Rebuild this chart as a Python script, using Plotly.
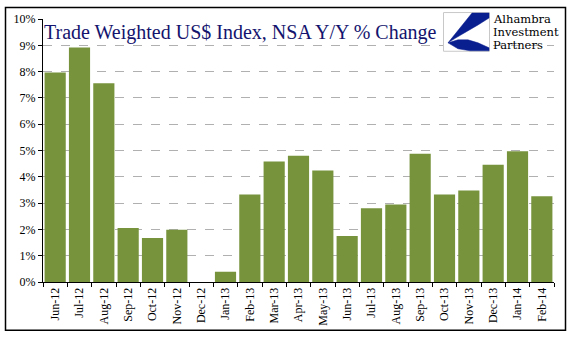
import plotly.graph_objects as go

months = ["Jun-12", "Jul-12", "Aug-12", "Sep-12", "Oct-12", "Nov-12", "Dec-12",
          "Jan-13", "Feb-13", "Mar-13", "Apr-13", "May-13", "Jun-13", "Jul-13",
          "Aug-13", "Sep-13", "Oct-13", "Nov-13", "Dec-13", "Jan-14", "Feb-14"]
yoy_change = [7.97, 8.92, 7.56, 2.05, 1.67, 1.99, 0.0,
              0.39, 3.33, 4.58, 4.80, 4.24, 1.75, 2.80,
              2.95, 4.88, 3.33, 3.48, 4.46, 4.97, 3.26]
y_ticks = list(range(0, 11))
y_tick_text = ["{}%".format(v) for v in y_ticks]
logo_lines = ["Alhambra", "Investment", "Partners"]

W, H = 577, 341
ML, MR, MT, MB = 43, 23, 17, 59
PW, PH = W - ML - MR, H - MT - MB


def px(x):
    return (x - ML) / PW


def py(y):
    return (H - MB - y) / PH


def pts_to_path(pts):
    s = "M{:.4f},{:.4f}".format(px(pts[0][0]), py(pts[0][1]))
    for x, y in pts[1:]:
        s += "L{:.4f},{:.4f}".format(px(x), py(y))
    return s + "Z"


fig = go.Figure()
fig.add_trace(go.Bar(
    x=months, y=yoy_change,
    marker=dict(color="#77933C", line=dict(width=0)),
    hoverinfo="x+y",
))

serif = "Liberation Serif"

shapes = [
    # outer frame
    dict(type="rect", xref="paper", yref="paper", layer="above",
         x0=px(5.5), x1=px(565.5), y0=py(5.5), y1=py(330.5),
         line=dict(color="black", width=1.5), fillcolor="rgba(0,0,0,0)"),
    # logo box
    dict(type="rect", xref="paper", yref="paper", layer="above",
         x0=px(443.5), x1=px(489.5), y0=py(10.5), y1=py(49.5),
         line=dict(color="#c8c8c8", width=1), fillcolor="white"),
]

# logo mark: upper wedge and lower sweep
upper = [(472, 11), (489, 11), (489, 16), (478, 23), (466, 30), (456, 36), (448, 41)]
lower = [(448, 41), (458, 38), (468, 38), (478, 41), (489, 46), (489, 49), (470, 49), (458, 47)]
for pts in (upper, lower):
    shapes.append(dict(type="path", xref="paper", yref="paper", layer="above",
                       path=pts_to_path(pts), fillcolor="#0a1f8f",
                       line=dict(color="#0a1f8f", width=0.5)))

annotations = [
    dict(text="Trade Weighted US$ Index, NSA Y/Y % Change",
         xref="paper", yref="paper", x=px(42), y=py(31),
         xanchor="left", yanchor="middle", showarrow=False,
         font=dict(family=serif, size=20, color="#14146e")),
]
for i, line in enumerate(logo_lines):
    annotations.append(dict(
        text=line, xref="paper", yref="paper",
        x=px(491), y=py(16.5 + i * 13.5), xanchor="left", yanchor="middle",
        showarrow=False, font=dict(family="DejaVu Serif", size=11.5, color="black")))

fig.update_layout(
    width=W, height=H,
    margin=dict(l=ML, r=MR, t=MT, b=MB),
    paper_bgcolor="white", plot_bgcolor="white",
    bargap=0.13,
    showlegend=False,
    shapes=shapes,
    annotations=annotations,
    xaxis=dict(
        type="category", range=[-0.5, len(months) - 0.5],
        tickangle=-90, tickfont=dict(family=serif, size=12, color="black"),
        showline=True, linecolor="black", linewidth=1,
        ticks="outside", ticklen=4, tickcolor="black", tickson="boundaries",
        showgrid=False, zeroline=False,
    ),
    yaxis=dict(
        range=[0, 10], tickmode="array", tickvals=y_ticks, ticktext=y_tick_text,
        tickfont=dict(family=serif, size=12, color="black"),
        showline=True, linecolor="black", linewidth=1,
        ticks="outside", ticklen=4, tickcolor="black",
        showgrid=True, gridcolor="#b0b0b0", griddash="dash", gridwidth=1,
        zeroline=False,
    ),
)

fig.write_html("out.html")
